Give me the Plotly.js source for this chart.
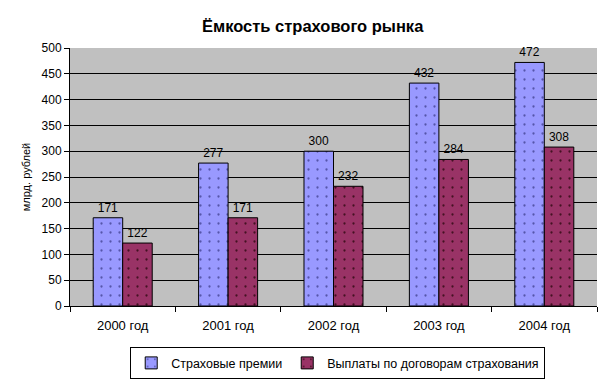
<!DOCTYPE html>
<html>
<head>
<meta charset="utf-8">
<script src="https://cdn.plot.ly/plotly-3.0.1.min.js"></script>
<style>html,body{margin:0;padding:0;background:#fff;}#chart{width:613px;height:381px;}</style>
</head>
<body>
<div id="chart"></div>
<script>
const categories = ["2000 год", "2001 год", "2002 год", "2003 год", "2004 год"];
const premiums = [171, 277, 300, 432, 472];
const payouts = [122, 171, 232, 284, 308];
const seriesNames = ["Страховые премии", "Выплаты по договорам страхования"];
const titleText = "Ёмкость страхового рынка";
const yTitle = "млрд. рублей";

const font = "Arial, 'Liberation Sans', sans-serif";

function bar(name, y, color, dot) {
  return {
    type: "bar",
    name: name,
    x: categories,
    y: y,
    text: y.map(String),
    textposition: "outside",
    cliponaxis: false,
    textfont: {family: font, size: 12, color: "#000"},
    marker: {
      color: color,
      line: {color: "#000", width: 1},
      pattern: {shape: ".", fgcolor: dot, bgcolor: color, size: 9, solidity: 0.05, fillmode: "replace"}
    },
    hoverinfo: "none"
  };
}

const data = [bar(seriesNames[0], premiums, "#9999ff", "#5555aa"), bar(seriesNames[1], payouts, "#993366", "#441122")];

const layout = {
  width: 613,
  height: 381,
  margin: {l: 70, r: 16, t: 48, b: 75, autoexpand: false},
  paper_bgcolor: "#fff",
  plot_bgcolor: "#c0c0c0",
  font: {family: font, size: 12, color: "#000"},
  title: {text: "<b>" + titleText + "</b>", font: {family: font, size: 16.5, color: "#000"}, x: 0.51, xanchor: "center", y: 0.93, yanchor: "middle"},
  barmode: "group",
  bargap: 0.44,
  bargroupgap: 0,
  showlegend: true,
  legend: {
    orientation: "h",
    x: 0.508, xanchor: "center",
    y: -0.16, yanchor: "top",
    bordercolor: "#000", borderwidth: 1, bgcolor: "#fff",
    font: {family: font, size: 12.5, color: "#000"},
    itemwidth: 30,
    tracegroupgap: 0
  },
  xaxis: {
    type: "category",
    showline: true, linecolor: "#000", linewidth: 1,
    ticks: "outside", tickson: "boundaries", ticklen: 5, tickcolor: "#000",
    showgrid: false,
    tickfont: {family: font, size: 13, color: "#000"},
    ticklabelstandoff: 7
  },
  yaxis: {
    range: [0, 500], dtick: 50,
    showline: true, linecolor: "#000", linewidth: 1,
    ticks: "outside", ticklen: 5, tickcolor: "#000",
    showgrid: true, gridcolor: "#000", gridwidth: 1,
    zeroline: false,
    tickfont: {family: font, size: 12, color: "#000"},
    title: {text: yTitle, font: {family: font, size: 11, color: "#000"}, standoff: 8}
  }
};

Plotly.newPlot("chart", data, layout, {staticPlot: true, displayModeBar: false});
</script>
</body>
</html>
